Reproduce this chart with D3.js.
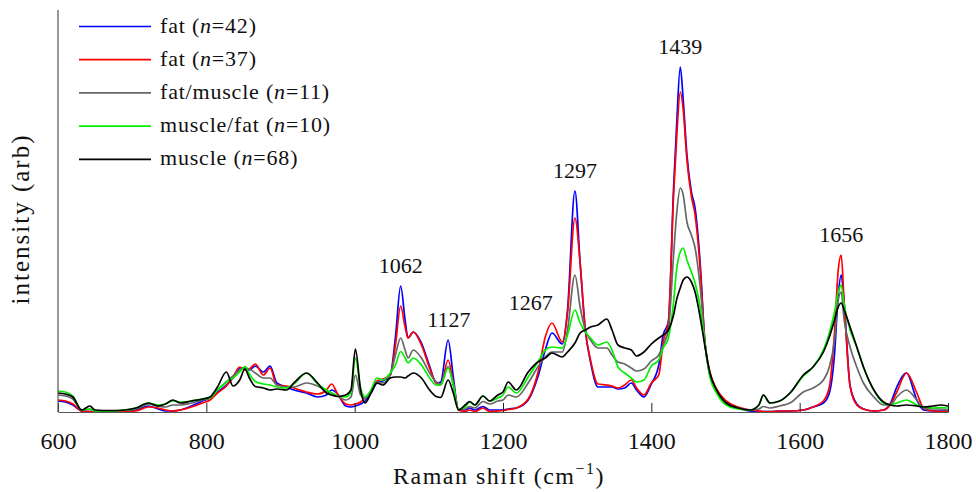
<!DOCTYPE html>
<html>
<head>
<meta charset="utf-8">
<script src="https://cdn.jsdelivr.net/npm/d3@7"></script>
<style>
  body { margin: 0; background: #fff; }
  text { font-family: "Liberation Serif", "Times New Roman", serif; fill: #111; }
</style>
</head>
<body>
<svg id="chart" width="976" height="492"></svg>
<script>
// Raman shift grid (cm^-1)
const shift = [
  600,610,620,632,643,650,670,690,705,722,
  735,745,755,765,780,795,805,815,827,836,
  845,852,858,866,877,886,895,908,918,935,
  950,962,969,977,988,995,1001,1008,1014,1022,
  1030,1038,1048,1055,1062,1068,1072,1079,1090,1101,
  1110,1116,1126,1133,1140,1149,1155,1162,1173,1182,
  1193,1200,1207,1218,1234,1247,1257,1266,1280,1287,
  1297,1304,1311,1318,1328,1340,1347,1355,1364,1373,
  1380,1390,1400,1410,1416,1423,1430,1434,1439,1443,
  1448,1454,1459,1466,1472,1479,1488,1501,1517,1533,
  1545,1551,1560,1573,1587,1605,1618,1632,1640,1647,
  1652,1656,1660,1668,1677,1686,1700,1713,1722,1731,
  1744,1758,1767,1780,1790,1800
];

// Mean spectra, intensity in arbitrary units
const fat42 = [
  11,10,7,1,0.5,1,1,1,2,6,
  3,1,1,2,6,11,14,20,27,34,
  44,44,42,46,40,46,29,25,22,19,
  15,17,22,18,6,5,6,8,11,19,
  29,31,37,75,126,92,74,80,69,46,
  29,30,72,35,2,2,4,2,5.5,2,
  2,2,3,4,12,35,62,79,68,102,
  221,149,82,50,25,25,25,23,24,29,
  22,15,28,47,77,90,224,285,345,312,
  257,220,204,147,72,37,21,9,4,1,
  0.5,0.5,0.5,1,1,2,5,9,19,58,
  117,137,109,26,8,3,1,2,8,25,
  39,12,2,1,1,1
];
const fat37 = [
  12,11,8,1,0.5,1,0.5,0.5,1,5,
  4,2,1,2,5,9,12,19,26,35,
  45,42,43,48,37,44,27,26,24,20,
  18,22,28,18,8,7,8,10,14,21,
  31,33,37,67,106,85,74,80,67,44,
  29,27,52,29,2,0.5,2,0.5,4,0.5,
  1,1.5,2.5,4,13,39,75,89,70,99,
  194,149,82,52,28,27,26,24,27,32,
  24,17,29,37,70,90,217,272,320,302,
  252,216,197,142,72,40,23,11,5,2,
  1,0.5,0.5,1,1,2,5,11,25,80,
  142,157,109,26,7,3,1,2,7,20,
  39,19,4,1,0.5,0.5
];
const fatMuscle11 = [
  17,16,13,2,3,1,1,1.5,3,8,
  6,5,7,7,9,12,14,22,30,36,
  42,44,43,39,34,34,27,25,25,29,
  26,21,19,16,12,15,37,17,14,20,
  30,29,37,57,74,62,54,62,54,39,
  30,28,45.5,27,3,3,5.5,4,10.5,8,
  11,12,17,15,29,45,55,60,60,82,
  137,105,82,72,64,64,57,50,48,44,
  41,43,51,57,67,82,157,197,224,217,
  190,177,164,124,72,37,21,9,4,2,
  3,5.5,4,6,9,20,24,32,45,72,
  112,120,92,65,45,29,15,7,7,15,
  22,12,4,3,3,2
];
const muscleFat10 = [
  21,20,16,2,3,1,1,2,4,9,
  7,8,11,10,11,13,14,22,30,34,
  40,45.5,38,30.5,28,27,25,24,28,39,
  28,22,19,16,15,20,54,24,15,22,
  34,32,39,47,60.5,54,49,54,47,34,
  27,27,44,27,3,5,10,7,16,11,
  14,17,25,19,35,50,62,65,64,77,
  102,89,80,74,67,70,62,45,39,34,
  30,32,46,52,64,74,110,142,160,164,
  152,140,129,104,70,35,19,7,3,2,
  7,17,9,11,19,36,45,62,79,100,
  120,127,107,82,65,45,22,9,7,9,
  12,7,5,4,4.5,4
];
const muscle68 = [
  19,18,15,2,6,2,1.5,2,4,9,
  6,8,12,9,11,13,15,25,40,26,
  32,43,34,25.5,24,22,23,22,29,39,
  29,19,17,15.5,17,22,63,22,9,19,
  29,27,34,35,35,34,36,39,34,22,
  15.5,14.5,32,19,2,7,10.5,7,16,11,
  17,20,30,22,40,50,54,59,55,60,
  69,79,82,85,87,93,82,67,64,62,
  56,60,68,74,77,82,97,112,124,132,
  135,130,120,94,67,39,22,9,4,2,
  7,17,9,11,19,37,45,60,75,92,
  105,109,102,85,65,45,22,10,7,6,
  7,6,5,6,7,6
];

const seriesNames  = ["fat", "fat", "fat/muscle", "muscle/fat", "muscle"];
const seriesCounts = [42, 37, 11, 10, 68];
const seriesColors = ["#0000ff", "#ff0000", "#666666", "#00f000", "#000000"];
const seriesValues = [fat42, fat37, fatMuscle11, muscleFat10, muscle68];

const peakLabels = [1062, 1127, 1267, 1297, 1439, 1656];
const xTickValues = [600, 800, 1000, 1200, 1400, 1600, 1800];

const svg = d3.select("#chart");
const plotLeft = 58, plotRight = 948, plotTop = 10, plotBottom = 412;

const x = d3.scaleLinear().domain([600, 1800]).range([plotLeft, plotRight]);
const y = d3.scaleLinear().domain([0, 402]).range([plotBottom, plotTop]);

// spectra
const line = d3.line()
  .x(d => x(d[0]))
  .y(d => y(d[1]))
  .curve(d3.curveMonotoneX);

const plot = svg.append("g");
seriesValues.forEach((vals, i) => {
  plot.append("path")
    .datum(shift.map((s, k) => [s, vals[k]]))
    .attr("fill", "none")
    .attr("stroke", seriesColors[i])
    .attr("stroke-width", 1.7)
    .attr("stroke-linejoin", "round")
    .attr("d", line);
});

// axes
const xAxis = d3.axisBottom(x)
  .tickValues(xTickValues)
  .tickSizeInner(-9)
  .tickSizeOuter(0)
  .tickPadding(20)
  .tickFormat(d3.format("d"));

const gx = svg.append("g")
  .attr("transform", `translate(0,${plotBottom})`)
  .call(xAxis);
gx.select(".domain").attr("stroke", "#555").attr("stroke-width", 1.2);
gx.selectAll(".tick line").attr("stroke", "#222");
gx.selectAll(".tick text")
  .attr("font-size", 24)
  .attr("fill", "#111")
  .style("font-family", "\"Liberation Serif\", serif");

svg.append("line")
  .attr("x1", plotLeft).attr("x2", plotLeft)
  .attr("y1", plotTop).attr("y2", plotBottom)
  .attr("stroke", "#555").attr("stroke-width", 1.2);

// axis titles
const xt = svg.append("text")
  .attr("x", (plotLeft + plotRight) / 2 - 4)
  .attr("y", 484)
  .attr("text-anchor", "middle")
  .attr("font-size", 24)
  .attr("letter-spacing", 1.5);
xt.append("tspan").text("Raman shift (cm");
xt.append("tspan").attr("font-size", 16).attr("dy", -10).text("\u22121");
xt.append("tspan").attr("dy", 10).text(")");

svg.append("text")
  .attr("transform", `translate(29,${(plotTop + plotBottom) / 2 + 8}) rotate(-90)`)
  .attr("text-anchor", "middle")
  .attr("font-size", 25)
  .attr("letter-spacing", 2)
  .text("intensity (arb)");

// peak annotations
peakLabels.forEach(p => {
  const idx = d3.minIndex(shift, s => Math.abs(s - p));
  const peakTop = d3.max(seriesValues, v => v[idx]);
  svg.append("text")
    .attr("x", x(p))
    .attr("y", y(peakTop) - 13)
    .attr("text-anchor", p === 1267 ? "end" : "middle")
    .attr("font-size", 22)
    .text(p);
});

// legend
const legend = svg.append("g");
seriesNames.forEach((name, i) => {
  const ly = 26.5 + i * 33.2;
  legend.append("line")
    .attr("x1", 79).attr("x2", 151)
    .attr("y1", ly).attr("y2", ly)
    .attr("stroke", seriesColors[i])
    .attr("stroke-width", 1.7);
  const t = legend.append("text")
    .attr("x", 160).attr("y", ly + 6)
    .attr("font-size", 22)
    .attr("letter-spacing", 0.8);
  t.append("tspan").text(name + " (");
  t.append("tspan").attr("font-style", "italic").text("n");
  t.append("tspan").text("=" + seriesCounts[i] + ")");
});
</script>
</body>
</html>
